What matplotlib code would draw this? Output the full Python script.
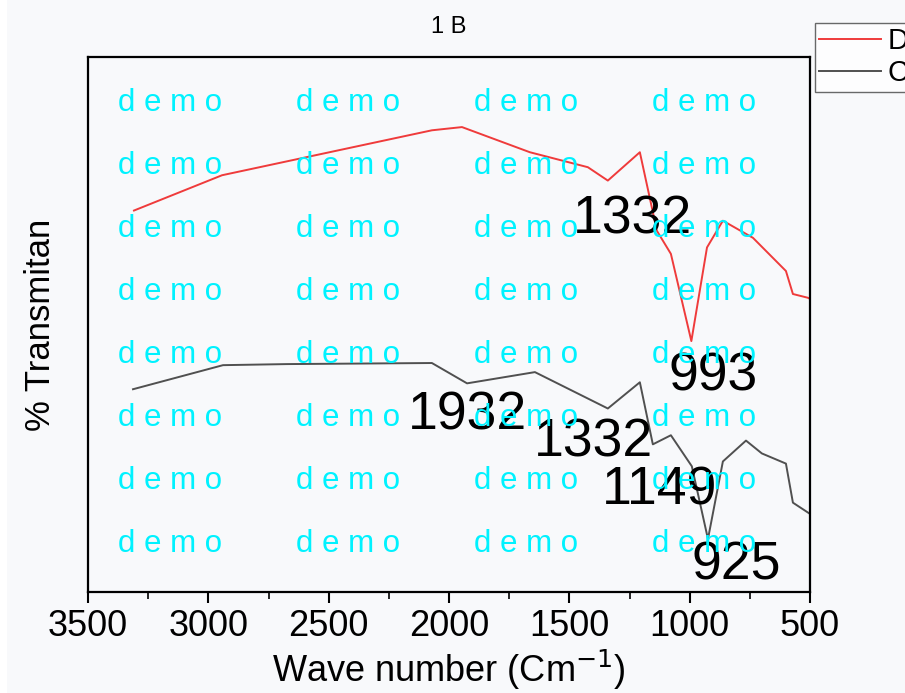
import matplotlib
matplotlib.use("Agg")
import matplotlib.pyplot as plt
from matplotlib.patches import Rectangle
from matplotlib.ticker import MultipleLocator

# FTIR spectra (wavenumber in cm-1, transmittance in arbitrary %)
wave_d = [3309, 2943, 2071, 1946, 1664, 1423, 1340, 1207, 1136, 1078, 993, 928, 862, 737, 600, 571, 509, 500]
trans_d = [71.3, 77.9, 86.3, 86.9, 82.2, 79.4, 76.9, 82.2, 67.5, 63.2, 46.9, 64.4, 69.4, 66.2, 60.0, 55.7, 55.0, 54.8]

wave_c = [3313, 2939, 2673, 2071, 1925, 1643, 1340, 1207, 1153, 1078, 991, 924, 862, 766, 700, 600, 571, 500]
trans_c = [37.9, 42.4, 42.6, 42.8, 39.0, 41.1, 34.3, 39.2, 27.6, 29.3, 23.5, 9.9, 24.4, 28.3, 25.9, 24.0, 16.7, 14.6]

# peak labels: text, x (cm-1), baseline y
peak_text = ["1332", "993", "1932", "1332", "1149", "925"]
peak_x = [1236, 903, 1925, 1398, 1124, 808]
peak_y = [67.0, 37.7, 30.4, 25.3, 16.3, 2.4]

BG = "#f8f9fb"
FONT = ["Liberation Sans", "DejaVu Sans"]
plt.rcParams["font.family"] = FONT

fig = plt.figure(figsize=(9.05, 6.93), dpi=100, facecolor=BG)
# thin white margin on the left edge, as in the screenshot
fig.patches.append(Rectangle((0, 0), 7 / 905, 1, transform=fig.transFigure,
                             facecolor="white", edgecolor="none", zorder=0))
ax = fig.add_axes([88 / 905, 101 / 693, 722 / 905, 535 / 693], facecolor=BG)

l1, = ax.plot(wave_d, trans_d, color="#ef3b3b", lw=1.4, label="D")
l2, = ax.plot(wave_c, trans_c, color="#505050", lw=1.4, label="C")

for t, x, y in zip(peak_text, peak_x, peak_y):
    ax.text(x, y, t, fontsize=38.5, ha="center", va="baseline", color="black", zorder=5)

ax.set_xlim(3500, 500)
ax.set_ylim(0, 100)
ax.xaxis.set_major_locator(MultipleLocator(500))
ax.xaxis.set_minor_locator(MultipleLocator(250))
ax.set_yticks([])
ax.tick_params(axis="x", which="major", direction="out", length=8, width=1.5, labelsize=26, pad=4)
ax.tick_params(axis="x", which="minor", direction="out", length=5, width=1.2)
for s in ax.spines.values():
    s.set_linewidth(1.6)

ax.set_xlabel("Wave number (Cm$^{-1}$)", fontsize=26, labelpad=3)
ax.set_ylabel("% Transmitan", fontsize=25, labelpad=22)
ax.set_title("1 B", fontsize=17, pad=17)

leg = fig.legend(handles=[l1, l2], loc="upper left", bbox_to_anchor=(815 / 905, 1 - 23 / 693),
                 fontsize=21, frameon=True, fancybox=False, handlelength=2.1,
                 borderpad=0.15, labelspacing=0.14, handletextpad=0.24, borderaxespad=0)
leg.get_frame().set_edgecolor("#444444")
leg.get_frame().set_linewidth(1.0)
leg.get_frame().set_facecolor("white")

# watermark grid
for yb in [111, 174, 237, 300, 363, 426, 489, 552]:
    for xl in [118, 296, 474, 652]:
        fig.text(xl / 905, 1 - yb / 693, "d e m o", fontsize=22.5, color="#00f2ff",
                 ha="left", va="baseline", zorder=10)

fig.savefig("out.png", dpi=100, facecolor=BG)
